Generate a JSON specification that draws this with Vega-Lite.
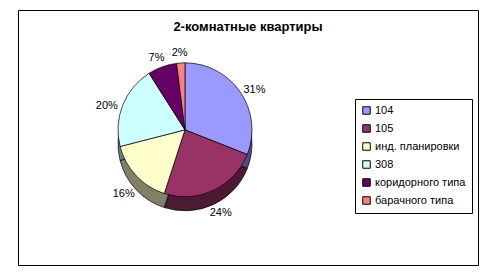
{
  "$schema": "https://vega.github.io/schema/vega-lite/v6.json",
  "width": 460,
  "height": 255,
  "padding": {"left": 18, "top": 10, "right": 18, "bottom": 9},
  "autosize": "none",
  "background": "white",
  "view": {"stroke": "black", "strokeWidth": 1, "fill": "white"},
  "title": {
    "text": "2-комнатные квартиры",
    "font": "Liberation Sans",
    "fontSize": 13,
    "fontWeight": "bold",
    "color": "black",
    "anchor": "middle",
    "offset": -24
  },
  "config": {
    "view": {"stroke": "black", "strokeWidth": 1},
    "font": "Liberation Sans"
  },
  "data": {
    "values": [
      {"cat": "104", "share": 0.31, "order": 1},
      {"cat": "105", "share": 0.24, "order": 2},
      {"cat": "инд. планировки", "share": 0.16, "order": 3},
      {"cat": "308", "share": 0.20, "order": 4},
      {"cat": "коридорного типа", "share": 0.07, "order": 5},
      {"cat": "барачного типа", "share": 0.02, "order": 6}
    ]
  },
  "encoding": {
    "theta": {"field": "share", "type": "quantitative", "stack": true},
    "order": {"field": "order", "type": "quantitative"}
  },
  "layer": [
    {
      "mark": {"type": "arc", "outerRadius": 67, "x": {"expr": "width*0.363"}, "y": {"expr": "height*0.47"}, "yOffset": 14, "stroke": "black", "strokeWidth": 0.7},
      "encoding": {
        "color": {
          "field": "cat", "type": "nominal", "legend": null,
          "scale": {
            "domain": ["104", "105", "инд. планировки", "308", "коридорного типа", "барачного типа"],
            "range": ["#4d4d80", "#4d1a33", "#808066", "#668080", "#330033", "#804040"]
          }
        }
      }
    },
    {
      "mark": {"type": "arc", "outerRadius": 67, "x": {"expr": "width*0.363"}, "y": {"expr": "height*0.47"}, "stroke": "black", "strokeWidth": 0.7},
      "encoding": {
        "color": {
          "field": "cat", "type": "nominal",
          "scale": {
            "domain": ["104", "105", "инд. планировки", "308", "коридорного типа", "барачного типа"],
            "range": ["#9999ff", "#993366", "#ffffcc", "#ccffff", "#660066", "#ff8080"]
          },
          "legend": {
            "title": null,
            "orient": "none",
            "legendX": 337,
            "legendY": 89,
            "direction": "vertical",
            "strokeColor": "black",
            "fillColor": "white",
            "padding": 6,
            "symbolType": "square",
            "symbolSize": 56,
            "symbolStrokeColor": "black",
            "symbolStrokeWidth": 1,
            "symbolOpacity": 1,
            "labelFont": "Liberation Sans",
            "labelFontSize": 11,
            "labelColor": "black",
            "labelLimit": 200,
            "labelOffset": 3,
            "rowPadding": 5
          }
        }
      }
    },
    {
      "mark": {"type": "text", "radius": 84, "x": {"expr": "width*0.363"}, "y": {"expr": "height*0.47"}, "yOffset": 7, "font": "Liberation Sans", "fontSize": 11, "color": "black"},
      "encoding": {
        "text": {"field": "share", "type": "quantitative", "format": ".0%"}
      }
    }
  ],
  "resolve": {"scale": {"color": "independent"}}
}
